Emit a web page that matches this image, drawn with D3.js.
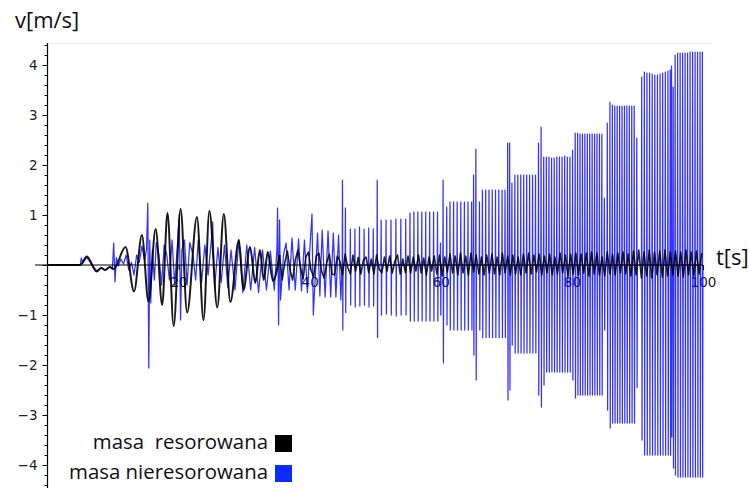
<!DOCTYPE html>
<html>
<head>
<meta charset="utf-8">
<script src="https://cdn.jsdelivr.net/npm/d3@7"></script>
<style>
  html, body { margin: 0; padding: 0; background: #fff; }
  svg { display: block; }
</style>
</head>
<body>
<svg id="chart" width="749" height="488"></svg>
<script>
// ---- tick values ----
const xTicks = [20, 40, 60, 80, 100];
const yTicks = [-4, -3, -2, -1, 1, 2, 3, 4];

// ---- legend ----
const seriesNames = ["masa  resorowana", "masa nieresorowana"];
const seriesColors = ["#000000", "#0a2dff"];

// ---- resonated mass: extrema of the velocity curve, t in s, v in m/s ----
const blackT = [0, 5.0, 6.0, 7.5, 8.2, 8.8, 9.5, 10.1, 11.9, 13.2, 14.4, 15.4, 16.5, 17.5, 18.3, 19.25,
  20.3, 21.3, 22.8, 23.8, 24.7, 25.9, 26.9, 27.9, 29.2, 29.9, 30.9, 31.7, 32.4, 33.0, 33.6, 34.4, 35.4];
const blackV = [0, 0, 0.17, -0.13, -0.06, -0.1, -0.04, -0.08, 0.36, -0.53, 0.6, -0.73, 0.72, -0.8, 1.04, -1.22,
  1.12, -0.95, 0.96, -1.1, 1.08, -0.85, 1.02, -0.74, 0.5, -0.5, 0.36, -0.36, 0.3, -0.3, 0.26, -0.32, 0.2];

// resonated mass after 35.8 s, sampled every 0.4 s
const blackTailStart = 35.8;
const blackTailStep = 0.4;
const blackTail = [
  -0.3, 0.05, 0.28, -0.1, -0.3, 0.1, 0.3, -0.05, -0.28, 0.15,
  0.26, -0.1, -0.24, 0.18, 0.24, -0.12, -0.26, 0.05, 0.22, -0.18,
  -0.2, 0.18, 0.08, -0.2, 0.22, -0.05, -0.18, 0.2, -0.12, 0.15,
  -0.18, 0.1, 0.16, -0.15, 0.12, -0.18, 0.2, -0.08, -0.16, 0.16,
  -0.12, 0.18, -0.16, 0.08, 0.2, -0.18, 0.12, -0.15, 0.18, -0.16,
  0.16, -0.12, 0.2, -0.16, 0.14, -0.2, 0.16, -0.12, 0.18, -0.18,
  0.2, -0.22, 0.16, -0.14, 0.22, -0.16, 0.18, -0.2, 0.24, -0.16,
  0.18, -0.2, 0.24, -0.14, 0.2, -0.18, 0.16, -0.2, 0.2, -0.16,
  0.22, -0.18, 0.16, -0.2, 0.24, -0.16, 0.18, -0.2, 0.2, -0.18,
  0.16, -0.2, 0.22, -0.16, 0.24, -0.18, 0.2, -0.14, 0.22, -0.2,
  0.18, -0.16, 0.22, -0.2, 0.16, -0.18, 0.24, -0.16, 0.2, -0.22,
  0.22, -0.18, 0.24, -0.2, 0.22, -0.16, 0.24, -0.22, 0.26, -0.18,
  0.24, -0.2, 0.16, -0.22, 0.26, -0.18, 0.22, -0.2, 0.24, -0.16,
  0.26, -0.18, 0.22, -0.22, 0.28, -0.2, 0.3, -0.26, 0.26, -0.22,
  0.3, -0.26, 0.26, -0.2, 0.28, -0.24, 0.3, -0.22, 0.26, -0.2,
  0.28, -0.22, 0.26, -0.24, 0.3, -0.2, 0.26, -0.22, 0.28, -0.18,
  0.24
];

// ---- non-resonated mass: extrema up to 45 s ----
const blueT = [0, 5.0, 5.15, 5.4, 6.0, 6.8, 7.5, 8.2, 8.8, 9.5, 9.9,
  10.1, 10.3, 10.5, 10.8, 11.2, 11.6, 12.0, 12.4, 12.8, 13.2, 13.6, 14.0, 14.4, 14.8,
  15.1, 15.3, 15.45, 15.6, 15.75, 16.0, 16.3, 16.6, 17.0, 17.4, 17.8, 18.2, 18.6, 19.0, 19.4, 19.8,
  20.1, 20.3, 20.5, 20.9, 21.3, 21.7, 22.2, 22.6, 23.0, 23.5, 24.0, 24.5,
  25.0, 25.2, 25.5, 26.0, 26.5, 27.0, 27.5, 28.0, 28.6, 29.2, 29.8,
  30.4, 31.0, 31.6, 32.2, 32.8, 33.4, 34.0, 34.6,
  35.0, 35.1, 35.25, 35.4, 35.55, 36.0, 36.4, 36.85, 37.3, 37.8, 38.3, 38.75, 39.2, 39.65,
  40.1, 40.35, 40.55, 41.2, 41.55, 41.9, 42.35, 42.8, 43.2, 43.6, 44.0, 44.4, 44.75, 44.95];
const blueV = [0, 0, 0.14, 0.04, 0.15, 0.0, -0.12, -0.05, -0.1, -0.04, -0.08,
  0.44, -0.34, 0.15, -0.02, 0.12, 0.02, 0.2, -0.1, 0.05, -0.2, 0.2, 0.05, 0.38, 0.1,
  0.3, 1.24, -2.06, 0.5, -0.76, 0.3, -0.3, 0.45, 0.2, -0.4, 0.4, 0.2, -0.3, 0.5, -0.4, 0.35,
  1.0, -1.1, 0.3, 0.5, -0.4, 0.45, 0.2, -0.3, 0.5, -0.35, 0.4, -0.2,
  0.5, 0.86, -0.45, 0.35, -0.35, 0.4, -0.45, 0.3, -0.5, 0.5, -0.55,
  0.4, -0.5, 0.35, -0.55, 0.3, -0.5, 0.28, -0.5,
  0.3, 1.14, -1.2, 0.9, -0.7, 0.2, 0.44, -0.5, 0.54, -0.5, 0.52, -0.52, 0.5, -0.55,
  0.5, 1.02, -1.0, 0.64, -0.62, 0.7, -0.64, 0.68, -0.64, 0.64, -0.64, 0.6, -0.7, 0];

// ---- non-resonated mass from 45 s: impulses (time, peak, trough) ----
const spikeT = [
  45.0, 45.45,
  46.2, 46.9, 47.6, 48.3, 49.0, 49.7,
  50.3,
  50.9, 51.65, 52.4, 53.15, 53.9, 54.65,
  55.3, 55.9, 56.5, 57.1, 57.7, 58.3, 58.9, 59.5,
  59.95, 60.35, 60.9,
  61.4, 61.95, 62.5, 63.05, 63.6, 64.15, 64.7,
  65.0, 65.35, 65.9,
  66.35, 66.85, 67.35, 67.85, 68.35, 68.85, 69.35, 69.8,
  70.2, 70.5, 70.85,
  71.3, 71.75, 72.2, 72.65, 73.1, 73.55, 74.0, 74.45,
  74.9, 75.3, 75.7,
  76.1, 76.5, 76.9, 77.3, 77.7, 78.1, 78.5, 78.9, 79.3, 79.7,
  80.1,
  80.5, 80.87, 81.24, 81.61, 81.98, 82.35, 82.72, 83.09, 83.46, 83.83, 84.2, 84.57,
  84.95, 85.4,
  85.8, 86.17, 86.54, 86.91, 87.28, 87.65, 88.02, 88.39, 88.76, 89.13, 89.5,
  89.9,
  90.65, 91.05, 91.45, 91.85, 92.25, 92.65, 93.05, 93.45, 93.85, 94.25, 94.65, 95.0,
  95.2, 95.45,
  95.75, 96.13, 96.51, 96.89, 97.27, 97.65, 98.03, 98.41, 98.79, 99.17, 99.55, 99.9
];
const spikeHi = [
  1.70, 1.14,
  0.72, 0.72, 0.76, 0.72, 0.74, 0.72,
  1.70,
  0.90, 0.90, 0.90, 0.92, 0.92, 0.92,
  1.04, 1.06, 1.06, 1.06, 1.06, 1.06, 1.06, 1.06,
  0.44, 1.70, 1.16,
  1.26, 1.26, 1.26, 1.26, 1.26, 1.26, 1.26,
  1.80, 2.32, 1.26,
  1.50, 1.50, 1.50, 1.50, 1.50, 1.50, 1.50, 1.50,
  2.44, 2.44, 1.64,
  1.80, 1.80, 1.80, 1.80, 1.80, 1.80, 1.80, 1.80,
  2.44, 2.76, 2.16,
  2.16, 2.16, 2.14, 2.14, 2.16, 2.16, 2.16, 2.18, 2.16, 2.16,
  2.30,
  2.64, 2.64, 2.62, 2.62, 2.62, 2.62, 2.62, 2.62, 2.62, 2.62, 2.62, 2.62,
  1.34, 2.84,
  3.26, 3.20, 3.18, 3.18, 3.18, 3.18, 3.18, 3.18, 3.18, 3.18, 3.18,
  2.54,
  3.76, 3.86, 3.84, 3.84, 3.82, 3.80, 3.80, 3.82, 3.84, 3.86, 3.88, 3.90,
  3.98, 3.56,
  4.20, 4.24, 4.24, 4.24, 4.24, 4.24, 4.26, 4.26, 4.26, 4.26, 4.26, 4.26
];
const spikeLo = [
  -1.30, -0.95,
  -0.80, -0.84, -0.82, -0.80, -0.84, -0.82,
  -1.45,
  -1.00, -0.98, -1.00, -1.02, -1.00, -1.00,
  -1.12, -1.12, -1.12, -1.12, -1.12, -1.12, -1.12, -1.12,
  -1.00, -1.95, -1.20,
  -1.30, -1.30, -1.30, -1.30, -1.30, -1.30, -1.30,
  -1.80, -2.30, -1.30,
  -1.45, -1.45, -1.45, -1.45, -1.45, -1.45, -1.45, -1.45,
  -2.70, -2.50, -1.60,
  -1.76, -1.76, -1.76, -1.76, -1.76, -1.76, -1.76, -1.76,
  -2.60, -2.84, -2.40,
  -2.14, -2.14, -2.14, -2.14, -2.14, -2.14, -2.14, -2.14, -2.14, -2.14,
  -2.30,
  -2.66, -2.60, -2.60, -2.60, -2.60, -2.60, -2.60, -2.60, -2.60, -2.60, -2.60, -2.60,
  -1.30, -2.90,
  -3.26, -3.16, -3.16, -3.16, -3.16, -3.16, -3.16, -3.16, -3.16, -3.16, -3.16,
  -2.45,
  -3.50, -3.80, -3.80, -3.80, -3.80, -3.80, -3.80, -3.80, -3.80, -3.80, -3.80, -3.80,
  -3.44, -4.06,
  -4.20, -4.24, -4.24, -4.24, -4.24, -4.24, -4.24, -4.24, -4.24, -4.24, -4.24, -4.24
];

// ---- scales ----
const svg = d3.select("#chart");
const x = d3.scaleLinear().domain([0, 100]).range([47.5, 703]);
const y = d3.scaleLinear().domain([-4, 4]).range([465, 65]);

const tickFont = "'DejaVu Sans', sans-serif";
const textFont = "'Open Sans', Lato, sans-serif";

// faint frame line along the top
svg.append("line")
  .attr("x1", x(0)).attr("x2", 713)
  .attr("y1", 43.5).attr("y2", 43.5)
  .attr("stroke", "#f1f1f1").attr("stroke-width", 1);

// x tick labels sit under the curves
const xLabels = svg.append("g")
  .attr("transform", `translate(0,${y(0)})`)
  .call(d3.axisBottom(x).tickValues(xTicks).tickSize(0).tickPadding(12.5));
xLabels.select(".domain").remove();
xLabels.selectAll("text")
  .attr("font-family", tickFont).attr("font-size", 13.5).attr("fill", "#222");

const line = d3.line().x(d => x(d[0])).y(d => y(d[1]));

// ---- non-resonated mass ----
const bluePts = blueT.map((t, i) => [t, blueV[i]]);
spikeT.forEach((t, i) => {
  bluePts.push([t - 0.04, 0], [t, spikeHi[i]], [t + 0.05, spikeLo[i]], [t + 0.09, 0]);
});
svg.append("path")
  .datum(bluePts)
  .attr("d", line)
  .attr("fill", "none")
  .attr("stroke", "#0000ff")
  .attr("stroke-opacity", 0.8)
  .attr("stroke-width", 1.25)
  .attr("stroke-linejoin", "round");

// ---- resonated mass: smooth early swing, then the dense tail ----
const blackEarly = blackT.map((t, i) => [t, blackV[i]]);
const blackLate = [blackEarly[blackEarly.length - 1]]
  .concat(blackTail.map((v, i) => [blackTailStart + i * blackTailStep, v]));
svg.append("path")
  .datum(blackEarly)
  .attr("d", d3.line().x(d => x(d[0])).y(d => y(d[1])).curve(d3.curveMonotoneX))
  .attr("fill", "none")
  .attr("stroke", "#000")
  .attr("stroke-opacity", 0.9)
  .attr("stroke-width", 2);
svg.append("path")
  .datum(blackLate)
  .attr("d", line)
  .attr("fill", "none")
  .attr("stroke", "#000")
  .attr("stroke-opacity", 0.85)
  .attr("stroke-width", 1.6)
  .attr("stroke-linejoin", "round");

// ---- axes ----
// horizontal axis line with major ticks
svg.append("line")
  .attr("x1", x(-1.9)).attr("x2", x(100))
  .attr("y1", y(0)).attr("y2", y(0))
  .attr("stroke", "#000").attr("stroke-width", 1.2);
const xTickG = svg.append("g")
  .attr("transform", `translate(0,${y(0)})`)
  .call(d3.axisBottom(x).tickValues(xTicks).tickSize(5).tickFormat(""));
xTickG.select(".domain").remove();
xTickG.selectAll("line").attr("stroke", "#000");

// vertical axis: line, minor ticks every 0.2, labelled major ticks
svg.append("line")
  .attr("x1", x(0)).attr("x2", x(0))
  .attr("y1", y(4.44)).attr("y2", y(-4.48))
  .attr("stroke", "#000").attr("stroke-width", 1.2);
const minorY = d3.range(-22, 23).filter(k => k % 5 !== 0).map(k => k / 5);
const yMinor = svg.append("g")
  .attr("transform", `translate(${x(0)},0)`)
  .call(d3.axisLeft(y).tickValues(minorY).tickSize(3).tickFormat(""));
yMinor.select(".domain").remove();
const yMajor = svg.append("g")
  .attr("transform", `translate(${x(0)},0)`)
  .call(d3.axisLeft(y).tickValues(yTicks.concat([0]))
    .tickSize(5).tickPadding(5)
    .tickFormat(d => d === 0 ? "" : (d < 0 ? "\u2212" + Math.abs(d) : String(d))));
yMajor.select(".domain").remove();
yMajor.selectAll("text")
  .attr("font-family", tickFont).attr("font-size", 13.5).attr("fill", "#222");

// axis titles
svg.append("text")
  .attr("x", 15).attr("y", 28)
  .attr("font-family", textFont).attr("font-size", 22).attr("fill", "#111")
  .text("v[m/s]");
svg.append("text")
  .attr("x", 716).attr("y", 265)
  .attr("font-family", textFont).attr("font-size", 22).attr("fill", "#111")
  .text("t[s]");

// ---- legend ----
const legend = svg.append("g");
seriesNames.forEach((name, i) => {
  const base = 449 + i * 30;
  legend.append("text")
    .attr("x", 268).attr("y", base)
    .attr("text-anchor", "end")
    .attr("font-family", textFont).attr("font-size", 20.4).attr("fill", "#111")
    .style("white-space", "pre")
    .text(name);
  legend.append("rect")
    .attr("x", 275).attr("y", base - 14)
    .attr("width", 17).attr("height", 17)
    .attr("fill", seriesColors[i]);
});
</script>
</body>
</html>
